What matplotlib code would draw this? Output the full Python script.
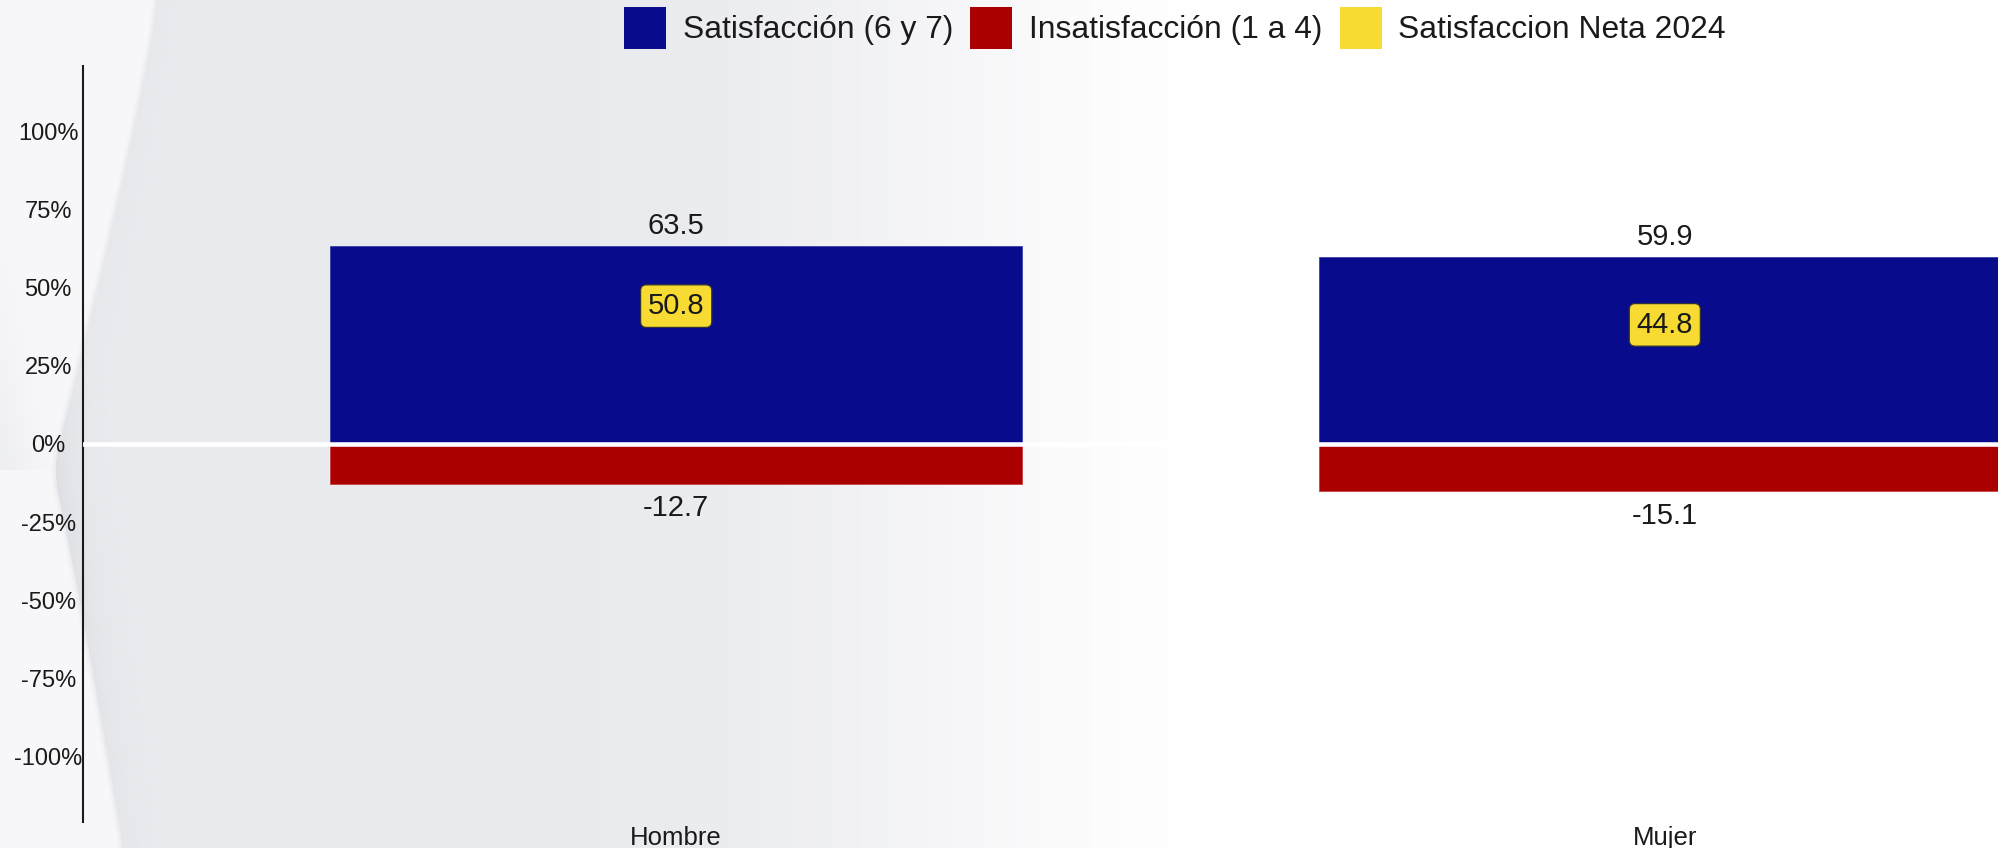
import numpy as np
import matplotlib.pyplot as plt
from matplotlib.patches import Patch

plt.rcParams['font.family'] = ['Liberation Sans', 'DejaVu Sans']

# data
categories = ["Hombre", "Mujer"]
satisfaccion = [63.5, 59.9]
insatisfaccion = [-12.7, -15.1]
neta_2024 = [50.8, 44.8]
series_names = ["Satisfacción (6 y 7)", "Insatisfacción (1 a 4)", "Satisfaccion Neta 2024"]
y_ticks = [-100, -75, -50, -25, 0, 25, 50, 75, 100]
y_tick_labels = ["-100%", "-75%", "-50%", "-25%", "0%", "25%", "50%", "75%", "100%"]

BLUE = "#070B8C"
RED = "#AB0000"
YELLOW = "#F8DB32"
TEXT = "#1A1A1A"

W, H = 1998, 848


def make_background(h, w):
    """Grey slide background fading to white, with a light swoosh on the left."""
    xs = np.arange(w)
    ys = np.arange(h)
    t = np.clip((xs - 600) / 650.0, 0, 1)
    t = t * t * (3 - 2 * t)
    gray = np.array([234, 235, 239]) / 255
    row = gray[None, :] * (1 - t[:, None]) + t[:, None]
    img = np.repeat(row[None, :, :], h, axis=0)

    X, Y = np.meshgrid(xs, ys)
    # swoosh edge: curved "<" shape, smoothed
    yy = np.linspace(0, h, 60)
    top = 157 - (157 - 52) * (yy / 470) ** 1.15
    bot = 52 + (123 - 52) * np.clip((yy - 470) / (h - 470), 0, 1) ** 0.9
    edge = np.where(yy < 470, top, bot)
    xb = np.interp(ys, yy, edge)
    xb = np.convolve(np.pad(xb, 25, mode="edge"), np.ones(51) / 51, mode="valid")
    d = X - xb[:, None]

    light = np.array([247, 247, 249]) / 255
    soft = np.clip(-d / 5.0, 0, 1)[..., None]
    img = img * (1 - soft) + light * soft

    # faint second curve above the crossing
    xb2 = np.interp(ys, [150, 470], [0, 52])
    upper = np.clip((xb2[:, None] - X) / 40.0, 0, 1) * ((Y > 150) & (Y < 470))
    upper = upper * np.clip((Y - 150) / 320.0, 0, 1)
    img = img * (1 - 0.4 * upper[..., None]) + (np.array([228, 229, 233]) / 255) * 0.4 * upper[..., None]

    # soft shadow right of the swoosh edge
    strength = np.interp(ys, [0, 380, 470, 640, 848], [0.10, 0.15, 0.55, 0.35, 0.2])
    a = strength[:, None] * np.exp(-np.clip(d, 0, None) / 22.0) * (d >= 0)
    darker = np.array([212, 213, 218]) / 255
    img = img * (1 - a[..., None]) + darker * a[..., None]
    return np.clip(img, 0, 1)


fig = plt.figure(figsize=(W / 100, H / 100), dpi=100)
fig.figimage(make_background(H, W), xo=0, yo=0, origin='upper', zorder=0)

ax = fig.add_axes([83 / W, 26 / H, (W - 83) / W, 756 / H])
ax.set_zorder(2)
ax.set_facecolor('none')

x = np.arange(len(categories))
ax.bar(x, satisfaccion, width=0.7, color=BLUE, edgecolor="#3A3FA8", linewidth=0.6, zorder=2)
ax.bar(x, insatisfaccion, width=0.7, color=RED, edgecolor="#C84040", linewidth=0.6, zorder=2)
ax.axhline(0, color="white", linewidth=3.3, zorder=3)

for xi, v in zip(x, satisfaccion):
    ax.annotate(f"{v:.1f}", xy=(xi, v), xytext=(0, 8.2), textcoords="offset points",
                ha="center", va="baseline", fontsize=21, color=TEXT, zorder=4)
for xi, v in zip(x, insatisfaccion):
    ax.annotate(f"{v:.1f}", xy=(xi, v), xytext=(0, -23.3), textcoords="offset points",
                ha="center", va="baseline", fontsize=21, color=TEXT, zorder=4)
for xi, v in zip(x, neta_2024):
    ax.annotate(f"{v:.1f}", xy=(xi, v), xytext=(0, -15), textcoords="offset points",
                ha="center", va="center", fontsize=21, color=TEXT, zorder=5,
                bbox=dict(boxstyle="round,pad=0.25,rounding_size=0.2",
                          facecolor=YELLOW, edgecolor="#333333", linewidth=0.9))

for xi, name in zip(x, categories):
    ax.annotate(name, xy=(xi, 0), xycoords=("data", "axes fraction"),
                xytext=(0, -16.6), textcoords="offset points",
                ha="center", va="baseline", fontsize=18.5, color=TEXT,
                annotation_clip=False)

ax.set_xlim(-0.6, 1.337)
ax.set_ylim(-121, 121)
ax.set_xticks([])
ax.set_yticks(y_ticks)
ax.set_yticklabels(y_tick_labels, fontsize=17, color=TEXT)
ax.tick_params(axis="y", length=0, pad=25)
for lbl in ax.get_yticklabels():
    lbl.set_horizontalalignment("center")

for side in ["top", "right", "bottom"]:
    ax.spines[side].set_visible(False)
ax.spines["left"].set_linewidth(1.5)
ax.spines["left"].set_color("#1A1A1A")

handles = [Patch(facecolor=c, edgecolor="none") for c in (BLUE, RED, YELLOW)]
leg = fig.legend(handles, series_names, loc="upper left", bbox_to_anchor=(624 / W, 1 - 7 / H),
                 ncol=3, frameon=False, fontsize=22.9, borderpad=0, borderaxespad=0,
                 handlelength=1.32, handleheight=1.66, handletextpad=0.52,
                 columnspacing=0.55, labelcolor=TEXT)
leg.set_zorder(3)

fig.savefig("out.png", dpi=100)
